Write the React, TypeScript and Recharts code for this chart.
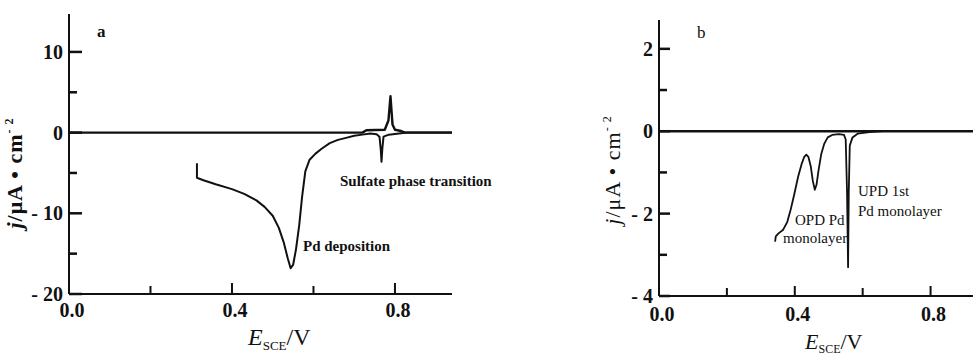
import React from 'react';
import { LineChart, Line, XAxis, YAxis } from 'recharts';

const FONT = '"Liberation Serif", "Times New Roman", serif';
const INK = '#111';

// ---------- Panel a ----------
const aTicksX = [0, 0.2, 0.4, 0.6, 0.8];
const aLabelsX = ['0.0', '', '0.4', '', '0.8'];
const aTicksY = [-20, -15, -10, -5, 0, 5, 10];
const aLabelsY = ['- 20', '', '- 10', '', '0', '', '10'];

// anodic / baseline trace
const aBaseE = [0, 0.3, 0.6, 0.72, 0.73, 0.775, 0.784, 0.789, 0.794, 0.8, 0.815, 0.825, 0.94];
const aBaseJ = [0, 0, 0, 0, 0.3, 0.35, 1.5, 4.5, 1.0, 0.35, 0.2, 0, 0];

// cathodic sweep (Pd deposition)
const aCathE = [0.314, 0.314, 0.33, 0.36, 0.4, 0.43, 0.46, 0.48, 0.5, 0.515, 0.527, 0.537, 0.544, 0.55, 0.557, 0.565, 0.572, 0.58, 0.59, 0.605, 0.62, 0.64, 0.66, 0.68, 0.7, 0.72, 0.74, 0.755, 0.762, 0.765, 0.767, 0.769, 0.772, 0.785, 0.81, 0.83, 0.94];
const aCathJ = [-3.8, -5.6, -5.9, -6.4, -7.0, -7.6, -8.4, -9.2, -10.3, -11.8, -13.6, -15.6, -16.8, -16.4, -14.5, -11.5, -8.0, -4.8, -3.4, -2.6, -2.0, -1.3, -0.9, -0.65, -0.4, -0.25, -0.12, -0.2, -0.5, -2.0, -3.6, -2.0, -0.5, -0.25, -0.1, 0, 0];

// ---------- Panel b ----------
const bTicksX = [0, 0.2, 0.4, 0.6, 0.8];
const bLabelsX = ['0.0', '', '0.4', '', '0.8'];
const bTicksY = [-4, -3, -2, -1, 0, 1, 2];
const bLabelsY = ['- 4', '', '- 2', '', '0', '', '2'];

const bBaseE = [0, 0.3, 0.6, 0.925];
const bBaseJ = [0, 0, 0, 0];

const bCathE = [0.342, 0.344, 0.352, 0.365, 0.378, 0.388, 0.398, 0.41, 0.42, 0.428, 0.434, 0.44, 0.447, 0.453, 0.459, 0.464, 0.47, 0.478, 0.487, 0.497, 0.51, 0.53, 0.545, 0.55, 0.554, 0.557, 0.559, 0.562, 0.57, 0.585, 0.62, 0.66];
const bCathJ = [-2.68, -2.55, -2.48, -2.4, -2.2, -1.9, -1.55, -1.1, -0.8, -0.62, -0.57, -0.62, -0.85, -1.2, -1.42, -1.3, -0.95, -0.55, -0.3, -0.15, -0.09, -0.07, -0.09, -0.2, -1.5, -3.3, -1.5, -0.35, -0.15, -0.06, -0.02, 0];

const zip = (E: number[], J: number[]) => E.map((e, i) => ({ E: e, j: J[i] }));

const aBase = zip(aBaseE, aBaseJ);
const aCath = zip(aCathE, aCathJ);
const bBase = zip(bBaseE, bBaseJ);
const bCath = zip(bCathE, bCathJ);

// tick positions on the y axis (E = 0), placed through the chart's own scales
const aTickPts = aTicksY.map((v) => ({ E: 0, j: v }));
const bTickPts = bTicksY.map((v) => ({ E: 0, j: v }));

const makeYTick = (values: number[], labels: string[], fs: number) => (props: any) => {
  const x = Number(props.x);
  const y = Number(props.y);
  const idx = values.indexOf(props.payload.value);
  const lab = idx >= 0 ? labels[idx] : '';
  if (!lab) return <g />;
  return (
    <text x={x - 6} y={y} dy="0.35em" textAnchor="end" fontFamily={FONT} fontSize={fs} fill={INK} fontWeight="bold">
      {lab}
    </text>
  );
};

const makeXTick = (values: number[], labels: string[], major: number, minor: number, fs: number, dy: number) => (props: any) => {
  const x = Number(props.x);
  const y = Number(props.y);
  const idx = values.indexOf(props.payload.value);
  const lab = idx >= 0 ? labels[idx] : '';
  const len = lab ? major : minor;
  return (
    <g>
      <rect x={x - 1} y={y - len} width={2} height={len} fill={INK} />
      {lab ? (
        <text x={x + 3} y={y + dy} textAnchor="middle" fontFamily={FONT} fontSize={fs} fill={INK} fontWeight="bold">
          {lab}
        </text>
      ) : null}
    </g>
  );
};

// inward y tick mark drawn as the "dot" of an invisible series
const makeTickDot = (labels: string[], major: number, minor: number) => (p: any) => {
  const len = labels[p.index] ? major : minor;
  return <rect key={'td' + p.index} x={p.cx} y={p.cy - 1.25} width={len} height={2.5} fill={INK} />;
};

const lineProps = {
  dot: false as const,
  isAnimationActive: false,
  type: 'linear' as const,
  stroke: INK,
  strokeLinejoin: 'round' as const,
  dataKey: 'j',
};

const YW = 40;
const XH = 30;

export default function App() {
  return (
    <div style={{ position: 'absolute', left: 0, top: 0, width: 973, height: 358, background: '#fff' }}>
      <svg width={973} height={358} style={{ position: 'absolute', left: 0, top: 0 }} fontFamily={FONT} fill={INK}>
        <text x={97} y={37} fontSize={17} fontWeight="bold">a</text>
        <text x={303} y={251} fontSize={15} fontWeight="bold">Pd deposition</text>
        <text x={340} y={186} fontSize={15} fontWeight="bold">Sulfate phase transition</text>
        <text x={248} y={345} fontSize={24}>
          <tspan fontStyle="italic">E</tspan>
          <tspan fontSize={13} dy={5}>SCE</tspan>
          <tspan dy={-5}>/V</tspan>
        </text>
        <text transform="translate(22,173) rotate(-90)" textAnchor="middle" fontSize={22} fontWeight="bold" letterSpacing={1}>
          <tspan fontStyle="italic">j</tspan>
          <tspan>/μA  •  cm</tspan>
          <tspan fontSize={12} dy={-9}>- 2</tspan>
        </text>
        <text x={697} y={38} fontSize={17}>b</text>
        <text x={795} y={225} fontSize={15}>OPD Pd</text>
        <text x={783} y={243} fontSize={15}>monolayer</text>
        <text x={858} y={196} fontSize={15}>UPD 1st</text>
        <text x={858} y={216} fontSize={15}>Pd monolayer</text>
        <text x={805} y={349} fontSize={22}>
          <tspan fontStyle="italic">E</tspan>
          <tspan fontSize={12} dy={4}>SCE</tspan>
          <tspan dy={-4}>/V</tspan>
        </text>
        <text transform="translate(620,170) rotate(-90)" textAnchor="middle" fontSize={22} letterSpacing={1}>
          <tspan fontStyle="italic">j</tspan>
          <tspan>/μA  •  cm</tspan>
          <tspan fontSize={12} dy={-9}>- 2</tspan>
        </text>
      </svg>
      <div style={{ position: 'absolute', left: 0, top: 0 }}>
        <LineChart width={480} height={358} margin={{ top: 14, right: 28, bottom: 64 - XH, left: 69 - YW }}>
          <XAxis
            dataKey="E"
            type="number"
            domain={[0, 0.94]}
            ticks={aTicksX}
            interval={0}
            height={XH}
            tickSize={0}
            tickMargin={0}
            stroke={INK}
            strokeWidth={2}
            tick={makeXTick(aTicksX, aLabelsX, 11, 8, 20, 23)}
          />
          <YAxis
            type="number"
            domain={[-20, 14.7]}
            ticks={aTicksY}
            interval={0}
            width={YW}
            tickSize={0}
            tickMargin={0}
            stroke={INK}
            strokeWidth={2}
            tick={makeYTick(aTicksY, aLabelsY, 20)}
          />
          <Line
            dataKey="j"
            data={aTickPts}
            stroke="none"
            isAnimationActive={false}
            dot={makeTickDot(aLabelsY, 13, 8)}
          />
          <Line {...lineProps} data={aBase} strokeWidth={2.4} />
          <Line {...lineProps} data={aCath} strokeWidth={2} />
        </LineChart>
      </div>
      <div style={{ position: 'absolute', left: 480, top: 0 }}>
        <LineChart width={493} height={358} margin={{ top: 20, right: 0, bottom: 62 - XH, left: 179 - YW }}>
          <XAxis
            dataKey="E"
            type="number"
            domain={[0, 0.925]}
            ticks={bTicksX}
            interval={0}
            height={XH}
            tickSize={0}
            tickMargin={0}
            stroke={INK}
            strokeWidth={2}
            tick={makeXTick(bTicksX, bLabelsX, 10, 8, 20, 25)}
          />
          <YAxis
            type="number"
            domain={[-4, 2.7]}
            ticks={bTicksY}
            interval={0}
            width={YW}
            tickSize={0}
            tickMargin={0}
            stroke={INK}
            strokeWidth={2}
            tick={makeYTick(bTicksY, bLabelsY, 20)}
          />
          <Line
            dataKey="j"
            data={bTickPts}
            stroke="none"
            isAnimationActive={false}
            dot={makeTickDot(bLabelsY, 11, 8)}
          />
          <Line {...lineProps} data={bBase} strokeWidth={2.4} />
          <Line {...lineProps} data={bCath} strokeWidth={1.8} />
        </LineChart>
      </div>
    </div>
  );
}
